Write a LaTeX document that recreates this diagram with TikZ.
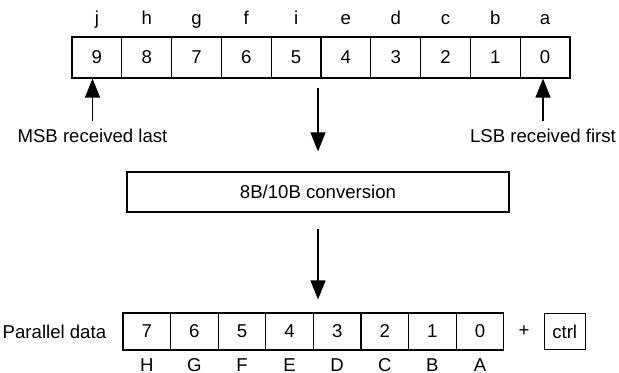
\documentclass[tikz,border=0pt]{standalone}
\usepackage{fontspec}
\setmainfont{Liberation Sans}
\usetikzlibrary{arrows.meta,positioning,calc}
\begin{document}
\begin{tikzpicture}[>={Triangle[length=9.5pt,width=7.5pt]}, x=0.5pt, y=-0.5pt,
    font=\fontsize{9.3}{11}\selectfont, line width=0.6pt,
    topbit/.style={draw, minimum width=24.9pt, minimum height=20.5pt, inner sep=0pt},
    lowbit/.style={draw, minimum width=23.8pt, minimum height=18.5pt, inner sep=0pt}]
            \useasboundingbox (0,0) rectangle (619,373);
            % 10-bit code group
            \foreach \n/\l [count=\i] in {9/j,8/h,7/g,6/f,5/i,4/e,3/d,2/c,1/b,0/a}{
                \node[topbit] (t\n) at ({72+49.8*(\i-0.5)},57.5) {\n};
                \node[anchor=base] (lt\n) at ([yshift=6pt]t\n.north) {\l};
            }
            \node (msb) at (92.5,135.5) {MSB received last};
            \node (lsb) at (543,135.5) {LSB received first};
            \draw[->] (msb.north) -- (msb.north |- t9.south);
            \draw[->] (lsb.north) -- (lsb.north |- t0.south);
            % decoder
            \node[draw, minimum width=191pt, minimum height=20pt] (conv) at (318,192) {8B/10B conversion};
            \coordinate (midtop) at (conv.north |- t5.south);
            \draw[->] ([yshift=-4.5pt]midtop) -- ([yshift=10pt]conv.north);
            % parallel byte
            \foreach \n/\l [count=\i] in {7/H,6/G,5/F,4/E,3/D,2/C,1/B,0/A}{
                \node[lowbit] (b\n) at ({123+47.6*(\i-0.5)},331.5) {\n};
                \node[anchor=base] (lb\n) at ([yshift=-10.5pt]b\n.south) {\l};
            }
            \coordinate (midbot) at (conv.south |- b4.north);
            \draw[->] ([yshift=-8pt]conv.south) -- ([yshift=6.5pt]midbot);
            \node[left=4.5pt of b7] (par) {Parallel data};
            \node[draw, minimum width=20.5pt, minimum height=18pt, inner sep=1pt, right=19.6pt of b0] (ctrl) {ctrl};
            \node (plus) at ($(b0.east)!0.5!(ctrl.west)$) {+};
\end{tikzpicture}
\end{document}
